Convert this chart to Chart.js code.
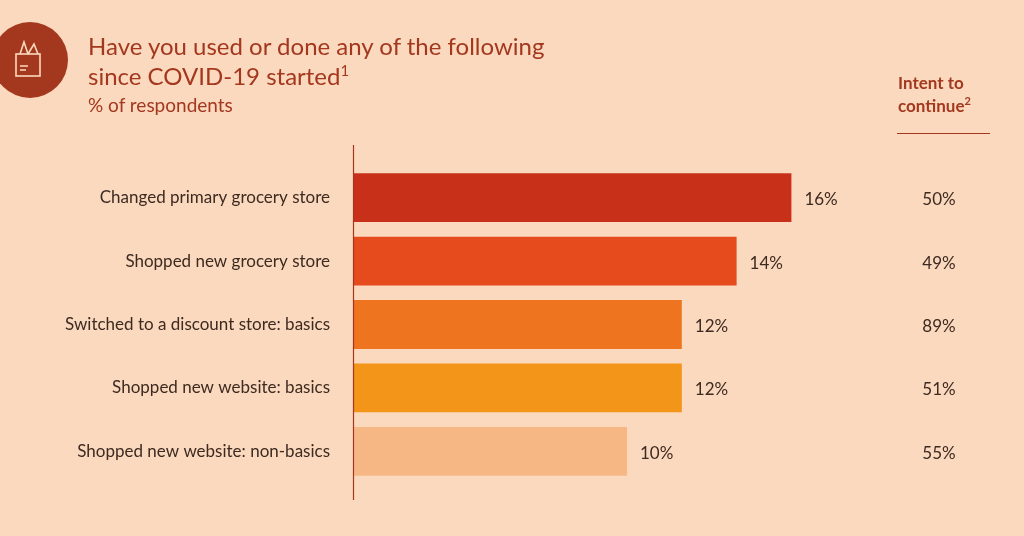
<!DOCTYPE html>
<html><head><meta charset="utf-8">
<script src="https://cdn.jsdelivr.net/npm/chart.js@4"></script>
<style>
body{margin:0;background:#FBD9BE;font-family:Lato,"Open Sans",sans-serif;}
#wrap{position:relative;width:1024px;height:536px;overflow:hidden;}
canvas{position:absolute;left:0;top:0;}
.t{position:absolute;color:#A3381F;}
#icon{position:absolute;left:-8px;top:22px;width:76px;height:76px;border-radius:50%;background:#A3381F;}
</style></head><body>
<div id="wrap">
<canvas id="c" width="1024" height="536"></canvas>
<div id="icon"><svg width="76" height="76" viewBox="0 0 76 76"><g fill="none" stroke="#FBD9BE" stroke-width="1.6"><rect x="24" y="32" width="24" height="22"/><path d="M28 32 l4 -12 l4 12 M36 32 l6 -10 l4 10"/><path d="M28 44 h8 M28 48 h6"/></g></svg></div>
<div class="t" style="left:88px;top:31px;font-size:24px;line-height:30px;">Have you used or done any of the following<br>since COVID-19 started<sup style="font-size:15px;line-height:0">1</sup></div>
<div class="t" style="left:88px;top:93px;font-size:19px;">% of respondents</div>
<div class="t" style="left:898px;top:71px;font-size:17px;font-weight:bold;line-height:23px;">Intent to<br>continue<sup style="font-size:11px;line-height:0">2</sup></div>
<div style="position:absolute;left:897px;top:133px;width:93px;height:1px;background:#A3381F;"></div>
</div>
<script>
const categories=["Changed primary grocery store","Shopped new grocery store","Switched to a discount store: basics","Shopped new website: basics","Shopped new website: non-basics"];
const values=[16,14,12,12,10];
const intent=["50%","49%","89%","51%","55%"];
const colors=["#C9301A","#E64B1E","#EE7420","#F29518","#F6B784"];
const extra={id:'extra',afterDatasetsDraw(ch){
 const ctx=ch.ctx,meta=ch.getDatasetMeta(0),y=ch.scales.y;
 ctx.save();
 ctx.strokeStyle='#A3381F';ctx.lineWidth=1.2;
 ctx.beginPath();ctx.moveTo(353.5,145);ctx.lineTo(353.5,500);ctx.stroke();
 ctx.font='17px Lato, "Open Sans", sans-serif';ctx.fillStyle='#3d2a20';ctx.textBaseline='middle';
 meta.data.forEach((b,i)=>{
  ctx.textAlign='left';ctx.fillText(values[i]+'%',b.x+13,b.y+2);
  ctx.textAlign='center';ctx.fillText(intent[i],939,b.y+2);
 });
 ctx.restore();}};
new Chart(document.getElementById('c'),{type:'bar',
 data:{labels:categories,datasets:[{data:values,backgroundColor:colors,barPercentage:0.77,categoryPercentage:1}]},
 options:{indexAxis:'y',responsive:false,animation:false,
  layout:{padding:{top:166,bottom:53,right:123,left:0}},
  plugins:{legend:{display:false},tooltip:{enabled:false}},
  scales:{x:{display:false,min:0,max:20},
   y:{grid:{display:false},border:{display:false},afterFit(s){s.width=353;},
    ticks:{color:'#3d2a20',padding:15,font:{size:17,family:'Lato, "Open Sans", sans-serif'}}}}},
 plugins:[extra]});
</script></body></html>
